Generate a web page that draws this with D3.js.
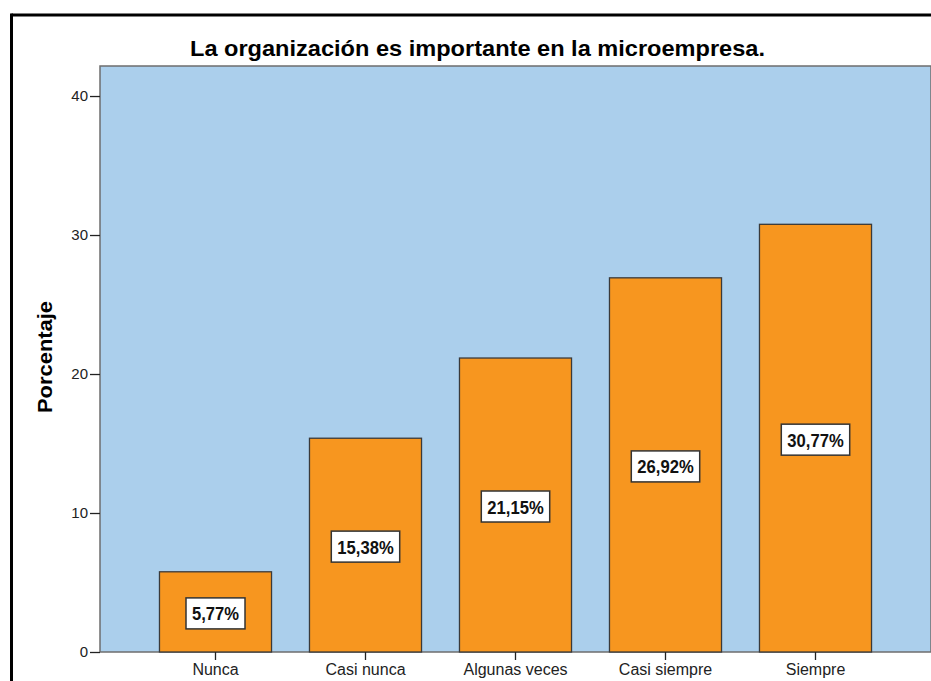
<!DOCTYPE html>
<html>
<head>
<meta charset="utf-8">
<script src="https://cdn.jsdelivr.net/npm/d3@7"></script>
<style>
html,body{margin:0;padding:0;background:#fff;}
svg{display:block;}
text{font-family:"Liberation Sans",Arial,sans-serif;}
</style>
</head>
<body>
<script>
const categories = ["Nunca","Casi nunca","Algunas veces","Casi siempre","Siempre"];
const values = [5.77, 15.38, 21.15, 26.92, 30.77];
const valueLabels = ["5,77%","15,38%","21,15%","26,92%","30,77%"];
const yTicks = [0,10,20,30,40];
const title = "La organización es importante en la microempresa.";
const yLabel = "Porcentaje";

const W = 931, H = 681;
const svg = d3.select("body").append("svg").attr("width",W).attr("height",H);

// outer frame
svg.append("line").attr("x1",11.5).attr("x2",W).attr("y1",15).attr("y2",15).attr("stroke","#000").attr("stroke-width",3);
svg.append("line").attr("x1",11.5).attr("x2",11.5).attr("y1",13.5).attr("y2",H).attr("stroke","#000").attr("stroke-width",3);

const plot = {left:100, right:931, top:66, bottom:652};

const y = d3.scaleLinear().domain([0,42.16]).range([plot.bottom, plot.top]);
const x = d3.scaleBand().domain(categories).range([plot.left, plot.right]).paddingInner(0.253).paddingOuter(0.3965);

svg.append("rect").attr("x",plot.left).attr("y",plot.top).attr("width",plot.right-plot.left).attr("height",plot.bottom-plot.top)
  .attr("fill","#abcfec").attr("stroke","#6e6e6e").attr("stroke-width",1.5);

svg.append("text").attr("x",477.5).attr("y",56).attr("text-anchor","middle")
  .attr("font-size",22).attr("font-weight","bold").attr("fill","#000")
  .attr("textLength",575).attr("lengthAdjust","spacingAndGlyphs").text(title);

// bars
svg.selectAll("rect.bar").data(values).enter().append("rect").attr("class","bar")
  .attr("x",(d,i)=>x(categories[i])).attr("width",x.bandwidth())
  .attr("y",d=>y(d)).attr("height",d=>y(0)-y(d))
  .attr("fill","#f7961f").attr("stroke","#3a3a3a").attr("stroke-width",1.3);

// labels
const lbl = svg.selectAll("g.lbl").data(values).enter().append("g").attr("class","lbl")
  .attr("transform",(d,i)=>`translate(${x(categories[i])+x.bandwidth()/2},${y(d/2)+1.5})`);
lbl.append("text").attr("text-anchor","middle").attr("y",7)
  .attr("font-size",18.5).attr("font-weight","bold").attr("fill","#111")
  .attr("textLength",(d,i)=>valueLabels[i].length*9.4).attr("lengthAdjust","spacingAndGlyphs")
  .text((d,i)=>valueLabels[i]);
lbl.each(function(){
  const g = d3.select(this);
  const t = g.select("text");
  const w = +t.attr("textLength");
  g.insert("rect","text").attr("x",-w/2-6).attr("y",-15.5).attr("width",w+12).attr("height",31)
    .attr("fill","#fff").attr("stroke","#333").attr("stroke-width",1.5);
});

// y axis
const yAxis = d3.axisLeft(y).tickValues(yTicks).tickSize(10).tickPadding(2).tickFormat(d3.format("d"));
const ya = svg.append("g").attr("transform",`translate(${plot.left},0)`).call(yAxis);
ya.select(".domain").remove();
ya.selectAll("line").attr("stroke","#222").attr("stroke-width",1.3);
ya.selectAll("text").attr("font-size",15).attr("fill","#222").attr("font-family","'Liberation Sans',Arial,sans-serif");

// x axis
const xAxis = d3.axisBottom(x).tickSize(8).tickPadding(4);
const xa = svg.append("g").attr("transform",`translate(0,${plot.bottom})`).call(xAxis);
xa.select(".domain").remove();
xa.selectAll("line").attr("stroke","#222").attr("stroke-width",1.3);
xa.selectAll("text").attr("font-size",16).attr("fill","#222").attr("font-family","'Liberation Sans',Arial,sans-serif");

svg.append("text").attr("transform","translate(52,357) rotate(-90)").attr("text-anchor","middle")
  .attr("font-size",20).attr("font-weight","bold").attr("fill","#000")
  .attr("textLength",112).attr("lengthAdjust","spacingAndGlyphs").text(yLabel);
</script>
</body>
</html>
